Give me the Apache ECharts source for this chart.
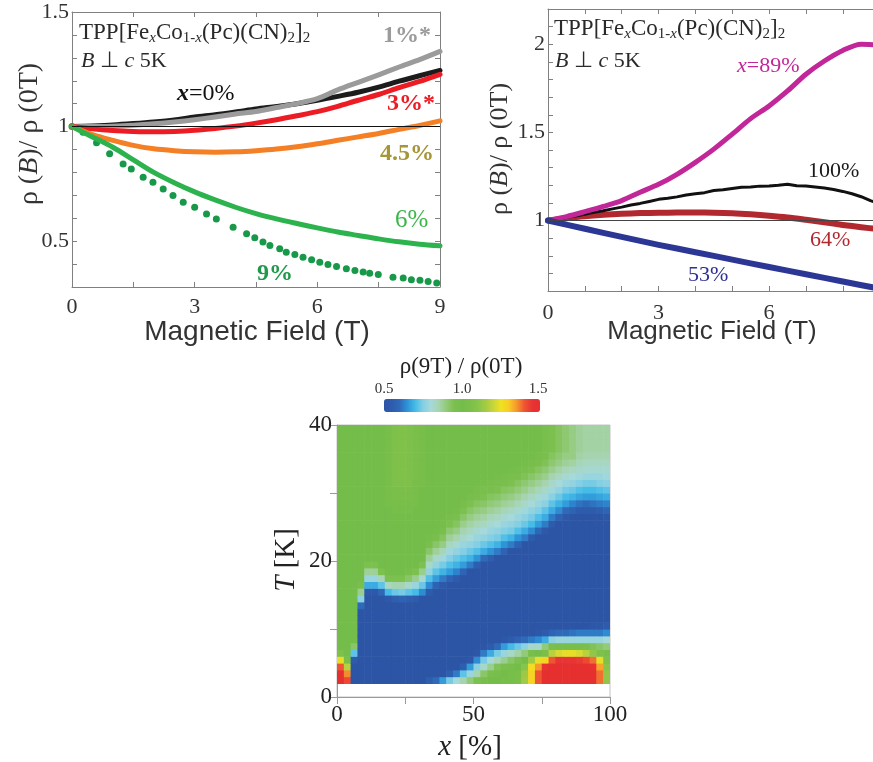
<!DOCTYPE html>
<html>
<head>
<meta charset="utf-8">
<script src="https://cdn.jsdelivr.net/npm/echarts@6/dist/echarts.min.js"></script>
<style>
  html, body { margin: 0; padding: 0; background: #fff; }
  #chart { width: 873px; height: 762px; }
</style>
</head>
<body>
<div id="chart"></div>
<script>
// ---------- Left panel: Fe-poor side, rho(B)/rho(0T) at 5 K, B ⟂ c ----------
const fieldLeft = [0, 0.5, 1, 1.5, 2, 2.5, 3, 3.5, 4, 4.5, 5, 5.5, 6, 6.5, 7, 7.5, 8, 8.5, 9];
const ratioX0  = [1.0, 1.003, 1.007, 1.013, 1.02, 1.029, 1.042, 1.052, 1.064, 1.077, 1.088, 1.1, 1.115, 1.132, 1.15, 1.172, 1.198, 1.222, 1.245];
const ratioX3  = [1.0, 0.99, 0.983, 0.979, 0.977, 0.979, 0.984, 0.992, 1.002, 1.015, 1.03, 1.047, 1.065, 1.088, 1.115, 1.14, 1.17, 1.197, 1.228];
const ratioX45 = [1.0, 0.965, 0.94, 0.918, 0.903, 0.895, 0.89, 0.888, 0.89, 0.895, 0.902, 0.912, 0.925, 0.94, 0.955, 0.97, 0.988, 1.005, 1.025];
const ratioX6  = [1.0, 0.955, 0.91, 0.855, 0.8, 0.755, 0.715, 0.68, 0.648, 0.62, 0.597, 0.577, 0.558, 0.54, 0.525, 0.51, 0.497, 0.487, 0.48];
const fieldX1  = [0, 0.5, 1, 1.5, 2, 2.5, 3, 3.5, 4, 4.5, 5, 5.5, 6, 6.5, 7, 7.5, 8, 8.5, 9];
const ratioX1  = [1.0, 1.0, 1.002, 1.006, 1.012, 1.02, 1.03, 1.042, 1.055, 1.066, 1.083, 1.1, 1.122, 1.16, 1.193, 1.226, 1.26, 1.292, 1.328];
const fieldX9  = [0, 0.27, 0.6, 0.92, 1.25, 1.45, 1.74, 1.98, 2.23, 2.47, 2.72, 3.0, 3.29, 3.53, 3.94, 4.27, 4.47, 4.67, 4.84, 5.08, 5.24, 5.45, 5.65, 5.86, 6.06, 6.26, 6.47, 6.71, 6.92, 7.12, 7.28, 7.49, 7.85, 8.1, 8.3, 8.51, 8.71, 8.92];
const ratioX9  = [1.0, 0.975, 0.93, 0.881, 0.837, 0.815, 0.779, 0.757, 0.728, 0.699, 0.67, 0.648, 0.619, 0.597, 0.561, 0.532, 0.515, 0.496, 0.481, 0.467, 0.452, 0.442, 0.43, 0.419, 0.408, 0.398, 0.39, 0.38, 0.372, 0.365, 0.36, 0.355, 0.343, 0.339, 0.332, 0.329, 0.324, 0.318];
const leftXTickLabels = [0, 3, 6, 9];
const leftYTickLabels = [0.5, 1, 1.5];

// ---------- Right panel: Fe-rich side ----------
const fieldRight = [0, 0.5, 1, 1.5, 2, 2.5, 3, 3.5, 4, 4.5, 5, 5.5, 6, 6.5, 7, 7.5, 8, 8.5, 9];
const ratioX89  = [1.0, 1.022, 1.05, 1.08, 1.113, 1.16, 1.205, 1.262, 1.33, 1.405, 1.49, 1.578, 1.65, 1.735, 1.83, 1.905, 1.965, 2.0, 1.995];
const ratioX64  = [1.0, 1.013, 1.024, 1.032, 1.038, 1.042, 1.044, 1.045, 1.045, 1.044, 1.041, 1.035, 1.027, 1.017, 1.004, 0.99, 0.975, 0.962, 0.95];
const fieldX100 = [0, 0.25, 0.5, 0.75, 1, 1.25, 1.5, 1.75, 2, 2.25, 2.5, 2.75, 3, 3.25, 3.5, 3.75, 4, 4.25, 4.5, 4.75, 5, 5.25, 5.5, 5.75, 6, 6.25, 6.5, 6.75, 7, 7.25, 7.5, 7.75, 8, 8.25, 8.5, 8.75, 9];
const ratioX100 = [1.0, 1.008, 1.017, 1.026, 1.036, 1.046, 1.055, 1.066, 1.076, 1.088, 1.097, 1.108, 1.12, 1.126, 1.134, 1.145, 1.152, 1.158, 1.17, 1.174, 1.182, 1.189, 1.19, 1.195, 1.196, 1.2, 1.206, 1.197, 1.196, 1.19, 1.184, 1.176, 1.165, 1.152, 1.135, 1.113, 1.095];
const fieldX53  = [0, 1, 2, 3, 4, 5, 6, 7, 8, 9];
const ratioX53  = [1.0, 0.953, 0.907, 0.862, 0.82, 0.778, 0.736, 0.695, 0.654, 0.613];
const rightXTickLabels = [0, 3, 6, 9];
const rightYTickLabels = [1, 1.5, 2];

// ---------- Map: rho(9T)/rho(0T) in percent, per x column (2.5 % wide), rows T = 2..40 K in 1 K steps ----------
const heatXStep = 2.5;
const heatTStart = 2;
const heatTStep = 1;
const heatColumns = [
  /* 0-2.5 */   [150,150,140,124,106, 100,100,100,100,100,100,100,100,100,100, 100,100,100,100,100,100,100,100,100,100, 100,100,100,100,100,100,100,100,100,100, 100,100,100],
  /* 2.5-5 */   [142,136,118,104, 100,100,100,100,100,100,100,100,100,100, 100,100,100,100,100,100,100,100,100,100, 100,100,100,100,100,100,100,100,100,100, 100,100,100,100],
  /* 5-7.5 */   [50,50,50,54,72,92, 100,100,100,100,100,100,100,100,100,100, 100,100,100,100,100,100,100,100,100,100, 100,100,100,100,100,100,100,100,100,100, 100,100],
  /* 7.5-10 */  [50,50,50,50,50,50,50,50,50,50,50, 60,76,88,96, 100,100,100,100,100,100,100,100,100,100, 100,100,100,100,100,100,100,100,100,100, 100,100,100],
  /* 10-12.5 */ [50,50,50,50,50,50,50,50,50,50,50,50,50, 53,68,78,87,95, 100,100,100,100,100,100,100,100,100,100, 100,100,100,100,100,100,100,100,100,100],
  /* 12.5-15 */ [50,50,50,50,50,50,50,50,50,50,50,50,50, 53,68,78,87,95, 100,100,100,100,100,100,100,100,100,100, 100,100,100,100,100,100,100,100,100,100],
  /* 15-17.5 */ [50,50,50,50,50,50,50,50,50,50,50,50,50, 59,72,84,95, 100,100,100,100,100,100,100,100,100,100, 100,100,100,100,100,100,100,101,101,101, 101],
  /* 17.5-20 */ [50,50,50,50,50,50,50,50,50,50,50,50, 53,70,83,95, 100,100,100,100,100,100,100,100, 101,101,102,102,103,103,103,103,103,103,103,103,103,103],
  /* 20-22.5 */ [50,50,50,50,50,50,50,50,50,50,50,50, 56,73,85,95, 100,100,100,100,100,100,100,100, 101,102,103,104,105,106,106,106,106,106,106,106,106,106],
  /* 22.5-25 */ [50,50,50,50,50,50,50,50,50,50,50,50, 57,74,85,95, 100,100,100,100,100,100,100,100, 101,102,103,104,105,106,107,107,107,107,107,107,107,107],
  /* 25-27.5 */ [50,50,50,50,50,50,50,50,50,50,50,50, 56,72,82,92,98, 100,100,100,100,100,100,100, 101,102,103,104,105,106,106,106,106,106,106,106,106,106],
  /* 27.5-30 */ [50,50,50,50,50,50,50,50,50,50,50,50, 54,70,78,88,95, 100,100,100,100,100,100,100, 100,101,102,102,103,103,104,104,104,104,104,104,104,104],
  /* 30-32.5 */ [50,50,50,50,50,50,50,50,50,50,50,50,50, 64,73,81,88,95, 100,100,100,100,100,100,100,100, 101,101,101,102,102,102,102,102,102,102,102,102],
  /* 32.5-35 */ [56, 50,50,50,50,50,50,50,50,50,50,50,50, 55,64,71,77,82,87,92,96,99, 100,100,100,100,100,100,100,100,100,100, 100,100,100,100,100,100],
  /* 35-37.5 */ [60, 50,50,50,50,50,50,50,50,50,50,50,50,50, 57,66,72,77,82,87,92,96,99, 100,100,100,100,100,100,100,100,100,100, 100,100,100,100,100],
  /* 37.5-40 */ [66, 50,50,50,50,50,50,50,50,50,50,50,50,50, 53,62,69,74,79,84,89,93,97,99, 100,100,100,100,100,100,100,100,100,100, 100,100,100,100],
  /* 40-42.5 */ [74,56, 50,50,50,50,50,50,50,50,50,50,50,50,50, 58,66,71,75,79,83,87,91,95,98, 100,100,100,100,100,100,100,100,100,100, 100,100,100],
  /* 42.5-45 */ [80,62, 50,50,50,50,50,50,50,50,50,50,50,50,50, 54,63,69,73,77,81,85,89,93,97,99, 100,100,100,100,100,100,100,100,100,100, 100,100],
  /* 45-47.5 */ [85,72,56, 50,50,50,50,50,50,50,50,50,50,50,50,50, 58,66,71,75,78,82,85,88,92,95,98, 100,100,100,100,100,100,100,100,100,100, 100],
  /* 47.5-50 */ [90,78,66,52, 50,50,50,50,50,50,50,50,50,50,50,50,50, 62,69,73,77,80,83,86,89,92,95,98, 100,100,100,100,100,100,100,100,100,100],
  /* 50-52.5 */ [95,85,76,64,52, 50,50,50,50,50,50,50,50,50,50,50,50, 56,65,71,75,78,81,84,87,90,93,96,98, 100,100,100,100,100,100,100,100,100],
  /* 52.5-55 */ [98,92,82,74,62,51, 50,50,50,50,50,50,50,50,50,50,50,50, 60,68,73,77,80,83,86,89,92,95,97,99, 100,100,100,100,100,100,100,100],
  /* 55-57.5 */ [100,96,88,80,68,54, 50,50,50,50,50,50,50,50,50,50,50,50, 56,65,71,75,78,81,84,87,90,93,96,98, 100,100,100,100,100,100,100,100],
  /* 57.5-60 */ [100,98,94,84,74,60, 50,50,50,50,50,50,50,50,50,50,50,50,50, 62,69,74,77,80,83,86,89,92,95,97,99, 100,100,100,100,100,100,100],
  /* 60-62.5 */ [102,100,96,88,78,66,52, 50,50,50,50,50,50,50,50,50,50,50,50, 57,65,71,75,78,81,84,87,90,93,96,98, 100,100,100,100,100,100,100],
  /* 62.5-65 */ [103,102,98,92,82,70,55, 50,50,50,50,50,50,50,50,50,50,50,50,50, 62,69,74,77,80,83,86,89,92,95,97,99, 100,100,100,100,100,100],
  /* 65-67.5 */ [105,104,100,95,86,73,57, 50,50,50,50,50,50,50,50,50,50,50,50,50, 57,65,71,75,78,81,84,87,90,93,96,98, 100,100,100,100,100,100],
  /* 67.5-70 */ [115,114,110,100,90,76,60, 50,50,50,50,50,50,50,50,50,50,50,50,50,50, 62,68,73,76,79,82,85,88,91,94,97,99, 100,100,100,100,100],
  /* 70-72.5 */ [128,128,126,115,98,82,62, 50,50,50,50,50,50,50,50,50,50,50,50,50,50, 55,64,70,74,77,80,83,86,89,92,95,98, 100,100,100,100,100],
  /* 72.5-75 */ [140,140,135,124,100,82,64,52, 50,50,50,50,50,50,50,50,50,50,50,50,50,50, 59,66,71,75,78,81,84,87,90,93,96,98, 100,100,100,100],
  /* 75-77.5 */ [150,150,146,128,105,90,68,54, 50,50,50,50,50,50,50,50,50,50,50,50,50,50, 53,62,68,72,76,79,82,85,88,91,94,96, 97,97,97,97],
  /* 77.5-80 */ [150,150,150,140,118,96,76,58, 50,50,50,50,50,50,50,50,50,50,50,50,50,50,50, 54,62,68,72,76,79,82,85,88,91,93, 95,95,95,95],
  /* 80-82.5 */ [150,150,150,145,122,98,78,60, 50,50,50,50,50,50,50,50,50,50,50,50,50,50,50,50, 57,64,69,73,77,80,83,86,89,91, 93,93,93,93],
  /* 82.5-85 */ [150,150,150,145,124,98,78,60, 50,50,50,50,50,50,50,50,50,50,50,50,50,50,50,50, 53,60,66,70,74,78,81,84,87,89, 91,91,91,91],
  /* 85-87.5 */ [150,150,150,145,124,98,78,61, 50,50,50,50,50,50,50,50,50,50,50,50,50,50,50,50,50, 57,63,69,73,77,80,83,86, 89,89,89,89,89],
  /* 87.5-90 */ [150,150,150,144,122,98,78,62, 50,50,50,50,50,50,50,50,50,50,50,50,50,50,50,50,50, 55,61,67,71,75,79,82,84,86, 87,87,87,87],
  /* 90-92.5 */ [150,150,150,142,118,96,78,62, 50,50,50,50,50,50,50,50,50,50,50,50,50,50,50,50,50, 55,60,66,70,74,78,81,83,85, 86,86,86,86],
  /* 92.5-95 */ [150,150,148,138,112,94,78,62,52, 50,50,50,50,50,50,50,50,50,50,50,50,50,50,50,50, 55,61,66,70,74,78,81,83,85, 86,86,86,86],
  /* 95-97.5 */ [138,138,134,124,106,92,78,62,52, 50,50,50,50,50,50,50,50,50,50,50,50,50,50,50,50, 56,62,67,71,75,78,81,83,85, 86,86,86,86],
  /* 97.5-100 */[112,112,110,106,98,90,80,64,54, 50,50,50,50,50,50,50,50,50,50,50,50,50,50,50, 52,58,63,68,72,76,79,81,83,85, 86,86,86,86]
];
const heatXTickLabels = [0, 50, 100];
const heatYTickLabels = [0, 20, 40];
const colorbarTickLabels = ['0.5', '1.0', '1.5'];

// colour ramp for the map, evenly spaced from 0.5 to 1.5
const heatColors = [
  '#2d55a6', '#2e5cad', '#2f6ab9', '#2e94d8', '#45bbe8', '#84cfe3', '#a6d9da', '#a7d4b0',
  '#92ca78', '#7cc04f', '#74bd4a', '#7bbf4a', '#88c44b', '#a2ca45', '#c7d53a', '#efe222',
  '#f8cc25', '#f6982c', '#ee5532', '#e83434', '#e6302f'
];

// ---------- helpers ----------
const pairs = (xs, ys) => xs.map((x, i) => [x, ys[i]]);
const near = (v, list) => list.some(t => Math.abs(t - v) < 1e-6);
const tickFmt = list => v => near(v, list) ? String(+(+v).toFixed(1)) : '';

const heatData = [];
heatColumns.forEach((col, i) => {
  col.forEach((v, j) => {
    heatData.push([i * heatXStep, (i + 1) * heatXStep,
                   heatTStart + j * heatTStep, heatTStart + (j + 1) * heatTStep, v / 100]);
  });
});

const SERIF = 'Liberation Serif';
const SANS = 'Liberation Sans';
const frameColor = '#808080';

function boxAxis(gridIndex, pos, min, max, interval, labels, extra) {
  const isX = pos === 'bottom' || pos === 'top';
  const showLabel = pos === 'bottom' || pos === 'left';
  return Object.assign({
    gridIndex, type: 'value', position: pos, min, max, interval,
    axisLine: { show: true, onZero: false, lineStyle: { color: frameColor, width: 1 } },
    axisTick: { show: true, inside: true, length: 5, lineStyle: { color: frameColor, width: 1 } },
    axisLabel: {
      show: showLabel, formatter: tickFmt(labels), color: '#333',
      fontFamily: SERIF, fontSize: 22, margin: isX ? 9 : 3,
      showMaxLabel: true, showMinLabel: true
    },
    splitLine: { show: false }
  }, extra || {});
}

// the right panel runs to 9 T, but the page cuts it off just short of that
const rightFieldEdge = 8.82;

const xAxes = [
  boxAxis(0, 'bottom', 0, 9, 1.5, leftXTickLabels),
  boxAxis(0, 'top', 0, 9, 1.5, leftXTickLabels),
  boxAxis(1, 'bottom', 0, rightFieldEdge, 1, rightXTickLabels),
  boxAxis(1, 'top', 0, rightFieldEdge, 1, rightXTickLabels),
  {
    gridIndex: 2, type: 'value', position: 'bottom', min: 0, max: 100, interval: 25,
    axisLine: { show: true, onZero: false, lineStyle: { color: '#9a9a9a' } },
    axisTick: { show: true, inside: false, length: 7, lineStyle: { color: '#9a9a9a' } },
    axisLabel: { formatter: tickFmt(heatXTickLabels), color: '#222', fontFamily: SERIF, fontSize: 23, margin: 6 },
    splitLine: { show: false }
  }
];
xAxes[2].axisLabel.margin = 11;
xAxes[2].axisLabel.showMaxLabel = false;

const yAxes = [
  boxAxis(0, 'left', 0.3, 1.5, 0.1, leftYTickLabels),
  boxAxis(0, 'right', 0.3, 1.5, 0.1, leftYTickLabels),
  boxAxis(1, 'left', 0.6, 2.2, 0.1, rightYTickLabels),
  {
    gridIndex: 2, type: 'value', position: 'left', min: 0, max: 40, interval: 10,
    axisLine: { show: true, onZero: false, lineStyle: { color: '#9a9a9a' } },
    axisTick: { show: true, inside: false, length: 7, lineStyle: { color: '#9a9a9a' } },
    axisLabel: { formatter: tickFmt(heatYTickLabels), color: '#222', fontFamily: SERIF, fontSize: 23, margin: 5 },
    splitLine: { show: false }
  }
];

const unityLine = {
  silent: true, symbol: 'none', animation: false,
  label: { show: false },
  lineStyle: { color: '#111', width: 1, type: 'solid' },
  data: [{ yAxis: 1 }]
};

function curve(xIdx, yIdx, data, color, width, smooth, extra) {
  return Object.assign({
    type: 'line', xAxisIndex: xIdx, yAxisIndex: yIdx, data,
    showSymbol: false, smooth: smooth, clip: true,
    lineStyle: { color, width, cap: 'round', join: 'round' }
  }, extra || {});
}

const series = [
  // left panel
  curve(0, 0, pairs(fieldLeft, ratioX0), '#1c1c1c', 5, 0.3, { markLine: unityLine }),
  curve(0, 0, pairs(fieldX1, ratioX1), '#9b9b9b', 5, 0.25),
  curve(0, 0, pairs(fieldLeft, ratioX3), '#ec1c24', 5, 0.3),
  curve(0, 0, pairs(fieldLeft, ratioX45), '#f47f25', 5, 0.3),
  curve(0, 0, pairs(fieldLeft, ratioX6), '#2db34d', 5, 0.3),
  {
    type: 'scatter', xAxisIndex: 0, yAxisIndex: 0, data: pairs(fieldX9, ratioX9),
    symbol: 'circle', symbolSize: 7, itemStyle: { color: '#18994a', opacity: 1 }
  },
  // right panel
  curve(2, 2, pairs(fieldRight, ratioX64), '#b2282f', 6, 0.3, {
    markLine: Object.assign({}, unityLine, { lineStyle: { color: '#444', width: 1, type: 'solid' } })
  }),
  curve(2, 2, pairs(fieldX100, ratioX100), '#111111', 3, false),
  curve(2, 2, pairs(fieldRight, ratioX89), '#c2279a', 5, 0.3),
  curve(2, 2, pairs(fieldX53, ratioX53), '#2c3795', 6, 0.2),
  // map
  {
    type: 'custom', xAxisIndex: 4, yAxisIndex: 3, data: heatData, clip: true,
    encode: { x: [0, 1], y: [2, 3] },
    renderItem: function (params, api) {
      const a = api.coord([api.value(0), api.value(3)]);
      const b = api.coord([api.value(1), api.value(2)]);
      return {
        type: 'rect',
        shape: { x: a[0], y: a[1], width: b[0] - a[0] + 0.6, height: b[1] - a[1] + 0.6 },
        style: { fill: api.visual('color') }
      };
    }
  }
];
const heatSeriesIndex = series.length - 1;

// ---------- text ----------
function label(x, y, text, opts) {
  const o = opts || {};
  return {
    type: 'text', x, y, rotation: o.rotation || 0, silent: true,
    style: {
      text, fill: o.fill || '#222', fontFamily: o.family || SERIF,
      fontSize: o.size || 22, fontWeight: o.weight || 'normal', fontStyle: o.style || 'normal',
      align: o.align || 'left', verticalAlign: 'middle', rich: o.rich
    }
  };
}

function formulaRich(size, sub, fill) {
  return {
    n: { fontFamily: SERIF, fontSize: size, lineHeight: size + 3, fill },
    i: { fontFamily: SERIF, fontSize: size, fontStyle: 'italic', lineHeight: size + 3, fill },
    bi: { fontFamily: SERIF, fontSize: size, fontStyle: 'italic', fontWeight: 'bold', lineHeight: size + 3, fill },
    s: { fontFamily: SERIF, fontSize: sub, lineHeight: sub, verticalAlign: 'bottom', fill },
    si: { fontFamily: SERIF, fontSize: sub, fontStyle: 'italic', lineHeight: sub, verticalAlign: 'bottom', fill }
  };
}

const compound = '{n|TPP[Fe}{si|x}{n|Co}{s|1-}{si|x}{n|(Pc)(CN)}{s|2}{n|]}{s|2}';
const geometry = '{i|B}{n| ⊥ }{i|c}{n| 5K}';
const yTitle = '{n|ρ (}{i|B}{n|)/ ρ (0T)}';

const graphics = [
  // left panel
  label(79, 33, compound, { rich: formulaRich(23, 15, '#2a2a2a') }),
  label(81, 61, geometry, { rich: formulaRich(22, 14, '#2a2a2a') }),
  label(383, 36, '1%*', { fill: '#9b9b9b', weight: 'bold', size: 24 }),
  label(177, 94, '{bi|x}{n|=0%}', { rich: formulaRich(24, 15, '#111') }),
  label(387, 104, '3%*', { fill: '#ec1c24', weight: 'bold', size: 24 }),
  label(380, 154, '4.5%', { fill: '#a69638', weight: 'bold', size: 24 }),
  label(395, 220, '6%', { fill: '#3bb54a', size: 25 }),
  label(257, 274, '9%', { fill: '#1f9a4a', weight: 'bold', size: 24 }),
  label(30, 134, yTitle, { rotation: Math.PI / 2, align: 'center', rich: formulaRich(28, 18, '#333') }),
  label(257, 332, 'Magnetic Field (T)', { family: SANS, size: 28, align: 'center', fill: '#333' }),
  // right panel
  label(554, 29, compound, { rich: formulaRich(23, 15, '#2a2a2a') }),
  label(555, 61, geometry, { rich: formulaRich(22, 14, '#2a2a2a') }),
  label(737, 66, '{i|x}{n|=89%}', { rich: formulaRich(22, 14, '#c2279a') }),
  label(808, 171, '100%', { fill: '#1a1a1a', size: 22 }),
  label(810, 240, '64%', { fill: '#b2282f', size: 22 }),
  label(688, 275, '53%', { fill: '#2e3192', size: 22 }),
  label(500, 149, yTitle, { rotation: Math.PI / 2, align: 'center', rich: formulaRich(26, 17, '#333') }),
  label(712, 332, 'Magnetic Field (T)', { family: SANS, size: 26, align: 'center', fill: '#333' }),
  // map
  label(461, 367, 'ρ(9T) / ρ(0T)', { size: 23, align: 'center', fill: '#222' }),
  label(384, 389, colorbarTickLabels[0], { size: 15, align: 'center', fill: '#333' }),
  label(462, 389, colorbarTickLabels[1], { size: 15, align: 'center', fill: '#333' }),
  label(538, 389, colorbarTickLabels[2], { size: 15, align: 'center', fill: '#333' }),
  label(286, 560, '{i|T}{n| [K]}', { rotation: Math.PI / 2, align: 'center', rich: formulaRich(29, 18, '#222') }),
  label(470, 747, '{i|x}{n| [%]}', { align: 'center', rich: formulaRich(29, 18, '#222') })
];

const chart = echarts.init(document.getElementById('chart'), null, { renderer: 'canvas' });
chart.setOption({
  animation: false,
  backgroundColor: '#ffffff',
  textStyle: { fontFamily: SERIF },
  grid: [
    { left: 72, top: 12, width: 368, height: 275 },
    { left: 548, top: 9, width: 325, height: 282 },
    { left: 337, top: 425, width: 273, height: 272, show: true, borderColor: '#c4c4c4', borderWidth: 1, backgroundColor: 'transparent' }
  ],
  xAxis: xAxes,
  yAxis: yAxes,
  visualMap: {
    type: 'continuous', min: 0.5, max: 1.5, seriesIndex: heatSeriesIndex, dimension: 4,
    orient: 'horizontal', left: 384, top: 399, itemWidth: 13, itemHeight: 156,
    calculable: false, padding: 0, hoverLink: false,
    inRange: { color: heatColors }
  },
  series,
  graphic: graphics
});
</script>
</body>
</html>
